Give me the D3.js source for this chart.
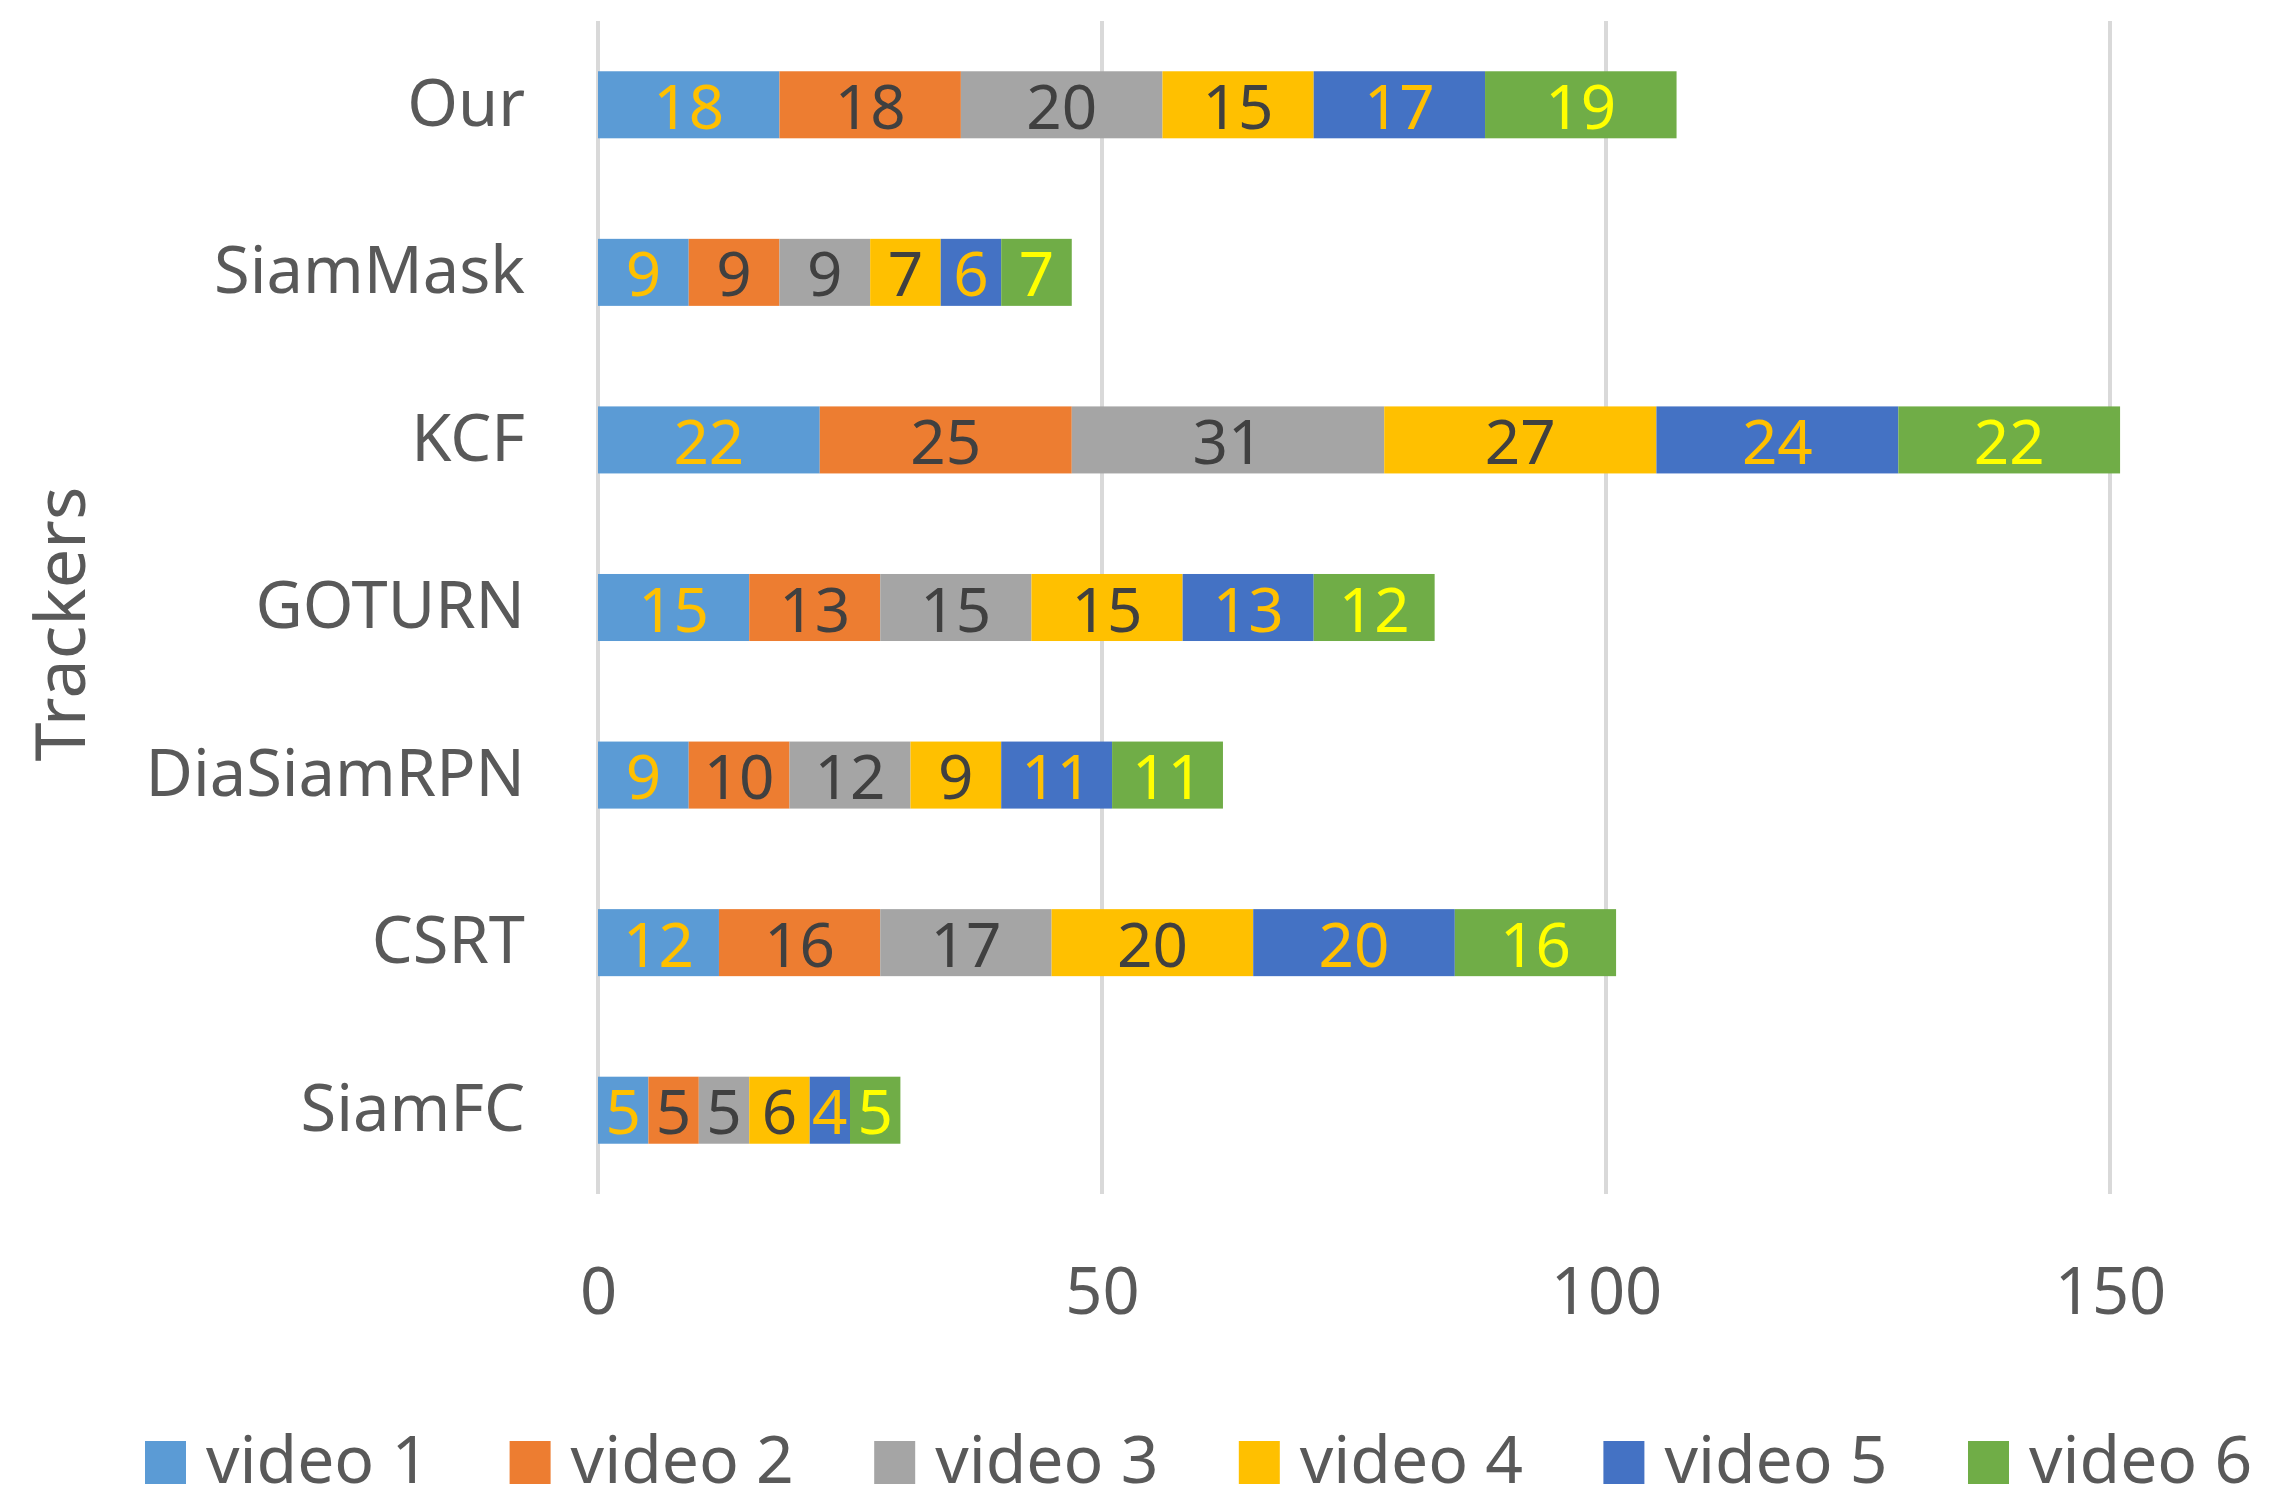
<!DOCTYPE html>
<html>
<head>
<meta charset="utf-8">
<script src="https://cdn.jsdelivr.net/npm/d3@7"></script>
<style>
  body { margin: 0; background: #fff; }
  text { font-family: "Noto Sans", sans-serif; }
</style>
</head>
<body>
<div id="viz"></div>
<script>
// data
const trackers = ["Our", "SiamMask", "KCF", "GOTURN", "DiaSiamRPN", "CSRT", "SiamFC"];
const seriesNames = ["video 1", "video 2", "video 3", "video 4", "video 5", "video 6"];
const video1 = [18, 9, 22, 15, 9, 12, 5];
const video2 = [18, 9, 25, 13, 10, 16, 5];
const video3 = [20, 9, 31, 15, 12, 17, 5];
const video4 = [15, 7, 27, 15, 9, 20, 6];
const video5 = [17, 6, 24, 13, 11, 20, 4];
const video6 = [19, 7, 22, 12, 11, 16, 5];
const xTicks = [0, 50, 100, 150];

const colors = ["#5B9BD5", "#ED7D31", "#A5A5A5", "#FFC000", "#4472C4", "#70AD47"];
const labelColors = ["#FFC000", "#404040", "#404040", "#404040", "#FFC000", "#FFFF00"];

// set the dimensions and margins of the graph
const W = 2275, H = 1511;
const margin = {top: 21, left: 598},
      width = 1512,
      height = 1173;

const svg = d3.select("#viz")
  .append("svg")
    .attr("width", W)
    .attr("height", H);

const g = svg.append("g")
    .attr("transform", "translate(" + margin.left + "," + margin.top + ")");

// build rows for stacking
const seriesVals = [video1, video2, video3, video4, video5, video6];
const rows = trackers.map((t, i) => {
  const r = {tracker: t};
  seriesNames.forEach((s, j) => r[s] = seriesVals[j][i]);
  return r;
});
const stacked = d3.stack().keys(seriesNames)(rows);

const x = d3.scaleLinear().domain([0, 150]).range([0, width]);
const y = d3.scaleBand().domain(trackers).range([0, height])
  .paddingInner(0.6).paddingOuter(0.3);

// gridlines
g.append("g")
  .selectAll("line")
  .data(xTicks)
  .join("line")
    .attr("x1", d => x(d)).attr("x2", d => x(d))
    .attr("y1", 0).attr("y2", height)
    .attr("stroke", "#D9D9D9")
    .attr("stroke-width", 4);

// x axis labels
const xAxis = g.append("g")
  .attr("transform", "translate(0," + height + ")")
  .call(d3.axisBottom(x).tickValues(xTicks).tickSize(0).tickPadding(74));
xAxis.select(".domain").remove();
xAxis.selectAll("text")
  .attr("font-size", 65)
  .attr("fill", "#595959")
  .attr("font-family", "Noto Sans");

// y axis labels
const yAxis = g.append("g")
  .call(d3.axisLeft(y).tickSize(0).tickPadding(73));
yAxis.select(".domain").remove();
yAxis.selectAll("text")
  .attr("font-size", 65)
  .attr("fill", "#595959")
  .attr("font-family", "Noto Sans");

// stacked bars
const layer = g.selectAll(".layer")
  .data(stacked)
  .join("g")
    .attr("class", "layer")
    .attr("fill", (d, i) => colors[i]);

layer.selectAll("rect")
  .data(d => d)
  .join("rect")
    .attr("x", d => x(d[0]))
    .attr("y", d => y(d.data.tracker))
    .attr("width", d => x(d[1]) - x(d[0]))
    .attr("height", y.bandwidth());

// value labels
layer.each(function(s, i) {
  d3.select(this).selectAll("text")
    .data(s)
    .join("text")
      .attr("x", d => (x(d[0]) + x(d[1])) / 2)
      .attr("y", d => y(d.data.tracker) + y.bandwidth() / 2)
      .attr("text-anchor", "middle")
      .attr("dominant-baseline", "central")
      .attr("font-size", 62)
      .attr("fill", labelColors[i])
      .text(d => d[1] - d[0]);
});

// y axis title
svg.append("text")
  .attr("transform", "translate(58,624) rotate(-90)")
  .attr("text-anchor", "middle")
  .attr("dominant-baseline", "central")
  .attr("font-size", 70)
  .attr("fill", "#595959")
  .text("Trackers");

// legend
const legend = svg.append("g")
  .selectAll("g")
  .data(seriesNames)
  .join("g")
    .attr("transform", (d, i) => "translate(" + (145 + i * 364.6) + ",1441)");
legend.append("rect")
  .attr("width", 41).attr("height", 43)
  .attr("fill", (d, i) => colors[i]);
legend.append("text")
  .attr("x", 61).attr("y", 42)
  .attr("font-size", 66)
  .attr("fill", "#595959")
  .text(d => d);
</script>
</body>
</html>
